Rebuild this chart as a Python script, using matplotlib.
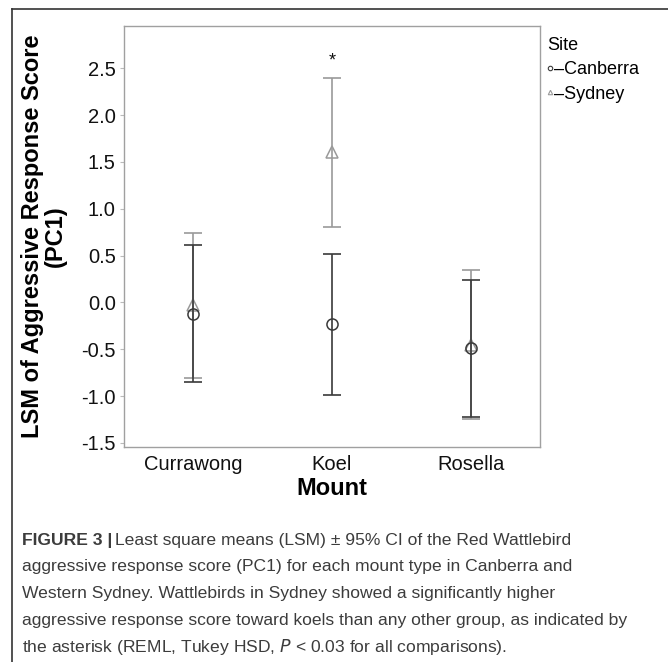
import matplotlib
matplotlib.use("Agg")
import matplotlib.pyplot as plt
from matplotlib.lines import Line2D
import numpy as np

plt.rcParams['font.family'] = ['Liberation Sans', 'DejaVu Sans']

mounts = ["Currawong", "Koel", "Rosella"]

# least square means and 95% CI bounds
canberra_mean = [-0.12, -0.23, -0.49]
canberra_low = [-0.85, -0.99, -1.22]
canberra_high = [0.61, 0.52, 0.24]

sydney_mean = [-0.03, 1.60, -0.45]
sydney_low = [-0.81, 0.80, -1.24]
sydney_high = [0.74, 2.40, 0.35]

yticks = [-1.5, -1.0, -0.5, 0.0, 0.5, 1.0, 1.5, 2.0, 2.5]

dark = "#3a3a3a"
light = "#9a9a9a"

fig = plt.figure(figsize=(6.68, 6.62), dpi=100)
ax = fig.add_axes([124/668, 1-447/662, 416/668, 421/662])

x = np.arange(len(mounts))


def draw_site(mean, low, high, color, marker, z):
    mean = np.array(mean)
    err = [mean - np.array(low), np.array(high) - mean]
    ax.errorbar(x, mean, yerr=err, fmt="none", ecolor=color, elinewidth=1.2,
                capsize=6.5, capthick=1.2, zorder=z)
    ax.plot(x, mean, linestyle="none", marker=marker, markersize=8,
            markerfacecolor="none", markeredgecolor=color, markeredgewidth=1.1,
            zorder=z + 1)


draw_site(sydney_mean, sydney_low, sydney_high, light, "^", 2)
draw_site(canberra_mean, canberra_low, canberra_high, dark, "o", 4)

# significance star above Sydney / Koel
ax.text(1, 2.58, "*", ha="center", va="center", fontsize=13, color="#111")

ax.set_xlim(-0.5, 2.5)
ax.set_ylim(-1.543, 2.95)
ax.set_xticks(x)
ax.set_xticklabels(mounts, fontsize=14.5, color="#111")
ax.set_yticks(yticks)
ax.set_yticklabels([f"{v:.1f}" for v in yticks], fontsize=14.5, color="#111")
ax.tick_params(axis="x", length=0, pad=6)
ax.tick_params(axis="y", length=3, color="#bbbbbb", width=0.8, pad=3)
for s in ax.spines.values():
    s.set_color("#a0a0a0")
    s.set_linewidth(1.0)

ax.set_xlabel("Mount", fontsize=17, fontweight="bold", labelpad=2)
ax.set_ylabel("LSM of Aggressive Response Score\n(PC1)", fontsize=17,
              fontweight="bold", linespacing=1.0, labelpad=10)

# legend
handles = [
    Line2D([], [], linestyle="none", marker="o", markersize=3.2,
           markerfacecolor="none", markeredgecolor=dark, markeredgewidth=0.8),
    Line2D([], [], linestyle="none", marker="^", markersize=3.2,
           markerfacecolor="none", markeredgecolor=light, markeredgewidth=0.8),
]
leg = ax.legend(handles, ["\u2013Canberra", "\u2013Sydney"], title="Site",
                loc="upper left", bbox_to_anchor=(0.995, 0.995), frameon=False,
                fontsize=13, title_fontsize=13, handlelength=0.3,
                handletextpad=0.1, borderaxespad=0.1, labelspacing=0.4,
                alignment="left")

# outer panel border (cropped on right and bottom)
fig.add_artist(Line2D([12/668, 12/668], [0, 1-9/662], color="#333333",
                      linewidth=1.2, transform=fig.transFigure))
fig.add_artist(Line2D([12/668, 1], [1-9/662, 1-9/662], color="#333333",
                      linewidth=1.2, transform=fig.transFigure))

# caption
cap_lines = [
    None,
    "aggressive response score (PC1) for each mount type in Canberra and",
    "Western Sydney. Wattlebirds in Sydney showed a significantly higher",
    "aggressive response score toward koels than any other group, as indicated by",
]
cap_y0 = 1 - 540/662
step = 26.8/662
cap_kw = dict(fontsize=12.6, color="#3c3c3c", va="center", ha="left")
t1 = fig.text(22/668, cap_y0, "FIGURE 3 |", fontweight="bold", **cap_kw)
fig.canvas.draw()
bb = t1.get_window_extent()
fig.text(bb.x1/fig.bbox.width + 0.004, cap_y0,
         "Least square means (LSM) \u00b1 95% CI of the Red Wattlebird", **cap_kw)
for i, line in enumerate(cap_lines[1:], start=1):
    fig.text(22/668, cap_y0 - i*step, line, **cap_kw)
fig.text(22/668, cap_y0 - 4*step,
         "the asterisk (REML, Tukey HSD, $\\it{P}$ < 0.03 for all comparisons).",
         **cap_kw)

fig.savefig("out.png", dpi=100)
